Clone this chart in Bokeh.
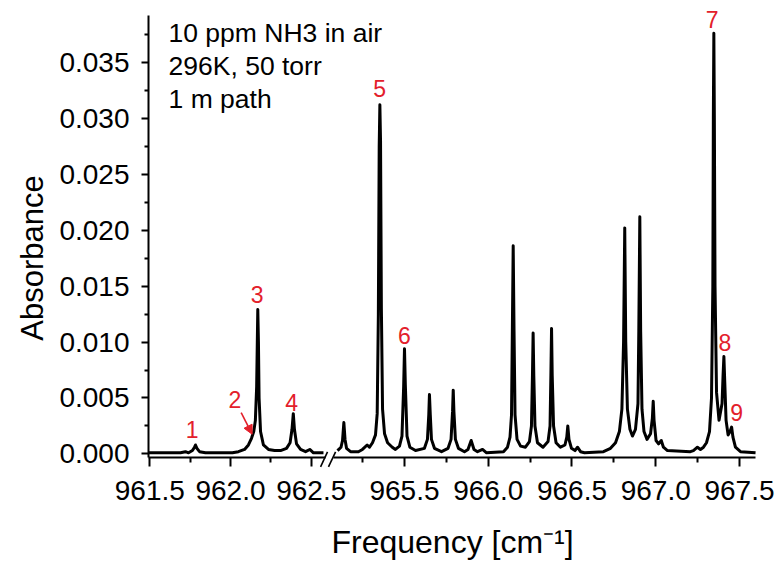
from bokeh.plotting import figure
from bokeh.models import (Range1d, LinearAxis, FixedTicker, PrintfTickFormatter,
                          Label, Arrow, NormalHead, ColumnDataSource)
from bokeh.embed import file_html
from bokeh.resources import INLINE

FONT = "Liberation Sans"
RED = "#e3202b"

# ---------------- data ----------------
# left part of the broken frequency axis (cm^-1) and absorbance
left_freq = [961.492, 961.690, 961.721, 961.740,
             961.764, 961.777, 961.783, 961.792, 961.808, 961.845,
             962.012, 962.049, 962.087, 962.111, 962.130, 962.144, 962.154,
             962.162, 962.166, 962.169, 962.173, 962.177, 962.186, 962.204,
             962.235, 962.273, 962.310,
             962.347, 962.369, 962.381, 962.389, 962.396, 962.409, 962.434,
             962.465, 962.491, 962.514, 962.576]
left_abs = [0.0001, 0.0001, 0.0002, 0.0001,
            0.0003, 0.0006, 0.0008, 0.0005, 0.0002, 0.0001,
            0.0001, 0.0002, 0.0004, 0.0008, 0.0014, 0.0020, 0.0030,
            0.0060, 0.0100, 0.0129, 0.0100, 0.0050, 0.0020, 0.0008,
            0.0004, 0.0003, 0.0003,
            0.0005, 0.0010, 0.0022, 0.0036, 0.0022, 0.0009, 0.0004,
            0.0002, 0.0004, 0.0001, 0.0001]

# right part of the broken frequency axis
right_freq = [965.100, 965.121, 965.130, 965.138, 965.145, 965.154, 965.178,
              965.225, 965.249, 965.277, 965.291,
              965.309, 965.327, 965.337, 965.344, 965.349, 965.353, 965.357,
              965.362, 965.369, 965.381, 965.399, 965.427, 965.446,
              965.470, 965.485, 965.495, 965.500, 965.505, 965.515, 965.532,
              965.566,
              965.619, 965.637, 965.645, 965.649, 965.654, 965.661, 965.679,
              965.721,
              965.760, 965.778, 965.787, 965.791, 965.795, 965.804, 965.822,
              965.858,
              965.879, 965.898, 965.915, 965.936, 965.966, 965.990,
              966.091, 966.115, 966.130, 966.139, 966.144, 966.149, 966.154,
              966.160, 966.172, 966.193, 966.222,
              966.246, 966.258, 966.264, 966.268, 966.272, 966.279, 966.294,
              966.327,
              966.357, 966.369, 966.374, 966.378, 966.382, 966.390, 966.405,
              966.431,
              966.458, 966.469, 966.475, 966.482, 966.497, 966.518, 966.533,
              966.551, 966.575,
              966.688, 966.730, 966.760, 966.783, 966.798, 966.808, 966.815,
              966.821, 966.831, 966.846, 966.861,
              966.879, 966.894, 966.899, 966.905, 966.910, 966.918, 966.930,
              966.948,
              966.969, 966.980, 966.985, 966.990, 967.002, 967.017, 967.033,
              967.046, 967.070,
              967.207, 967.225, 967.249, 967.267,
              967.285, 967.303, 967.321, 967.333, 967.341, 967.344, 967.347,
              967.350, 967.354, 967.363, 967.378,
              967.396, 967.402, 967.407, 967.412, 967.420, 967.432,
              967.444, 967.453, 967.461, 967.476, 967.506, 967.596]
right_abs = [0.0003, 0.0006, 0.0012, 0.0028, 0.0013, 0.0005, 0.0002,
             0.0002, 0.0004, 0.0008, 0.0006,
             0.0010, 0.0017, 0.0036, 0.0125, 0.0275, 0.0312, 0.0280,
             0.0130, 0.0040, 0.0018, 0.0010, 0.0006, 0.0004,
             0.0007, 0.0016, 0.0060, 0.0094, 0.0062, 0.0016, 0.0006,
             0.0003,
             0.0005, 0.0013, 0.0035, 0.0053, 0.0035, 0.0013, 0.0005,
             0.0002,
             0.0005, 0.0013, 0.0038, 0.0057, 0.0038, 0.0013, 0.0005,
             0.0002,
             0.0004, 0.0012, 0.0004, 0.0002, 0.0004, 0.0001,
             0.0002, 0.0006, 0.0015, 0.0035, 0.0110, 0.0186, 0.0110,
             0.0035, 0.0013, 0.0007, 0.0006,
             0.0011, 0.0025, 0.0070, 0.0108, 0.0070, 0.0025, 0.0010,
             0.0006,
             0.0011, 0.0025, 0.0070, 0.0112, 0.0070, 0.0025, 0.0010,
             0.0006,
             0.0008, 0.0015, 0.0025, 0.0013, 0.0005, 0.0003, 0.0006,
             0.0002, 0.0001,
             0.0002, 0.0005, 0.0010, 0.0020, 0.0040, 0.0100, 0.0202,
             0.0100, 0.0040, 0.0022, 0.0016,
             0.0022, 0.0045, 0.0110, 0.0212, 0.0110, 0.0040, 0.0020,
             0.0013,
             0.0018, 0.0032, 0.0047, 0.0030, 0.0012, 0.0009, 0.0012,
             0.0006, 0.0003,
             0.0002, 0.0003, 0.0006, 0.0004,
             0.0006, 0.0010, 0.0020, 0.0050, 0.0150, 0.0300, 0.0376,
             0.0300, 0.0150, 0.0055, 0.0030,
             0.0045, 0.0070, 0.0087, 0.0065, 0.0030, 0.0017,
             0.0020, 0.0024, 0.0015, 0.0006, 0.0002, 0.0001]
assert len(left_freq) == len(left_abs)
assert len(right_freq) == len(right_abs)

# numbered line labels (label text, anchor freq, anchor absorbance)
left_label_ids = ["1", "2", "3", "4"]
left_label_freq = [961.763, 962.027, 962.165, 962.378]
left_label_abs = [0.00221, 0.00489, 0.01428, 0.00459]
right_label_ids = ["5", "6", "7", "8", "9"]
right_label_freq = [965.351, 965.500, 967.337, 967.413, 967.483]
right_label_abs = [0.03262, 0.01055, 0.03879, 0.00996, 0.00369]

# axis ticks
y_ticks = [0.000, 0.005, 0.010, 0.015, 0.020, 0.025, 0.030, 0.035]
y_minor = [0.0025, 0.0075, 0.0125, 0.0175, 0.0225, 0.0275, 0.0325, 0.0375]
left_ticks = [961.5, 962.0, 962.5]
left_minor = [961.75, 962.25]
right_ticks = [965.5, 966.0, 966.5, 967.0, 967.5]
right_minor = [965.25, 965.75, 966.25, 966.75, 967.25]

info_lines = ["10 ppm NH3 in air", "296K, 50 torr", "1 m path"]

# ---------------- layout of the broken axis ----------------
# the frame covers the whole canvas; axes are pinned at fixed locations
Y_AXIS_BOUNDS = (-0.00032, 0.03918)
Y_VIEW = (-0.01006, 0.04052)
LEFT_VIEW = (960.575, 965.395)      # scale of the left segment
RIGHT_VIEW = (963.088, 967.733)     # scale of the right segment
LEFT_BOUNDS = (961.492, 962.587)
RIGHT_BOUNDS = (965.076, 967.595)

p = figure(width=778, height=566, output_backend="svg", toolbar_location=None,
           tools="", x_range=Range1d(*LEFT_VIEW), y_range=Range1d(*Y_VIEW),
           x_axis_location=None, y_axis_location=None,
           min_border_left=0, min_border_right=0,
           min_border_top=0, min_border_bottom=0)
p.extra_x_ranges = {"R": Range1d(*RIGHT_VIEW)}
p.outline_line_color = None
p.grid.visible = False
p.background_fill_color = "white"
p.border_fill_color = "white"


def style_axis(ax, tick_out, minor_out, standoff):
    ax.axis_line_width = 2
    ax.axis_line_color = "black"
    ax.major_tick_line_width = 2
    ax.minor_tick_line_width = 2
    ax.major_tick_line_color = "black"
    ax.minor_tick_line_color = "black"
    ax.major_tick_in = 0
    ax.minor_tick_in = 0
    ax.major_tick_out = tick_out
    ax.minor_tick_out = minor_out
    ax.major_label_text_font = FONT
    ax.major_label_text_font_size = "28px"
    ax.major_label_text_color = "black"
    ax.major_label_standoff = standoff


yax = LinearAxis(ticker=FixedTicker(ticks=y_ticks, minor_ticks=y_minor),
                 formatter=PrintfTickFormatter(format="%.3f"),
                 bounds=Y_AXIS_BOUNDS, fixed_location=LEFT_BOUNDS[0])
style_axis(yax, 7, 4, 12)
p.add_layout(yax, "left")

axL = LinearAxis(ticker=FixedTicker(ticks=left_ticks, minor_ticks=left_minor),
                 formatter=PrintfTickFormatter(format="%.1f"),
                 bounds=LEFT_BOUNDS, fixed_location=Y_AXIS_BOUNDS[0])
axR = LinearAxis(x_range_name="R",
                 ticker=FixedTicker(ticks=right_ticks, minor_ticks=right_minor),
                 formatter=PrintfTickFormatter(format="%.1f"),
                 bounds=RIGHT_BOUNDS, fixed_location=Y_AXIS_BOUNDS[0])
for ax in (axL, axR):
    style_axis(ax, 9, 5, 14)
    p.add_layout(ax, "below")

# spectrum
src_l = ColumnDataSource(dict(x=left_freq, y=left_abs))
src_r = ColumnDataSource(dict(x=right_freq, y=right_abs))
p.line("x", "y", source=src_l, line_color="black", line_width=3,
       line_join="round")
p.line("x", "y", source=src_r, x_range_name="R", line_color="black",
       line_width=3, line_join="round")

# break marks "//"
for (xs, ys, xe, ye) in [(962.558, -0.00116, 962.601, 0.00018),
                         (962.607, -0.00116, 962.651, 0.00018)]:
    p.add_layout(Arrow(end=None, x_start=xs, y_start=ys, x_end=xe, y_end=ye,
                       line_color="black", line_width=1.6))

# axis titles
p.add_layout(Label(x=960.775, y=0.01751, text="Absorbance", angle=90,
                   angle_units="deg", text_align="center",
                   text_baseline="middle", text_font=FONT,
                   text_font_size="31px", text_color="black"))
p.add_layout(Label(x=963.3755, y=-0.00783, text="Frequency [cm\u207b\u00b9]",
                   text_align="center", text_baseline="middle",
                   text_font=FONT, text_font_size="32px", text_color="black"))

# info text
for i, t in enumerate(info_lines):
    p.add_layout(Label(x=961.616, y=0.03766, y_offset=-33 * i, text=t,
                       text_align="left", text_baseline="middle",
                       text_font=FONT, text_font_size="26.5px",
                       text_color="black"))

# numbered red labels
for t, x, y in zip(left_label_ids, left_label_freq, left_label_abs):
    p.add_layout(Label(x=x, y=y, text=t, text_align="center",
                       text_baseline="middle", text_font=FONT,
                       text_font_size="23px", text_color=RED))
for t, x, y in zip(right_label_ids, right_label_freq, right_label_abs):
    p.add_layout(Label(x=x, y=y, text=t, x_range_name="R", text_align="center",
                       text_baseline="middle", text_font=FONT,
                       text_font_size="23px", text_color=RED))

# arrow pointing at line 2
p.add_layout(Arrow(end=NormalHead(size=9, fill_color=RED, line_color=RED),
                   x_start=962.066, y_start=0.00369, x_end=962.134, y_end=0.00176,
                   line_color=RED, line_width=1.6))

open("out.html", "w").write(file_html(p, INLINE))
